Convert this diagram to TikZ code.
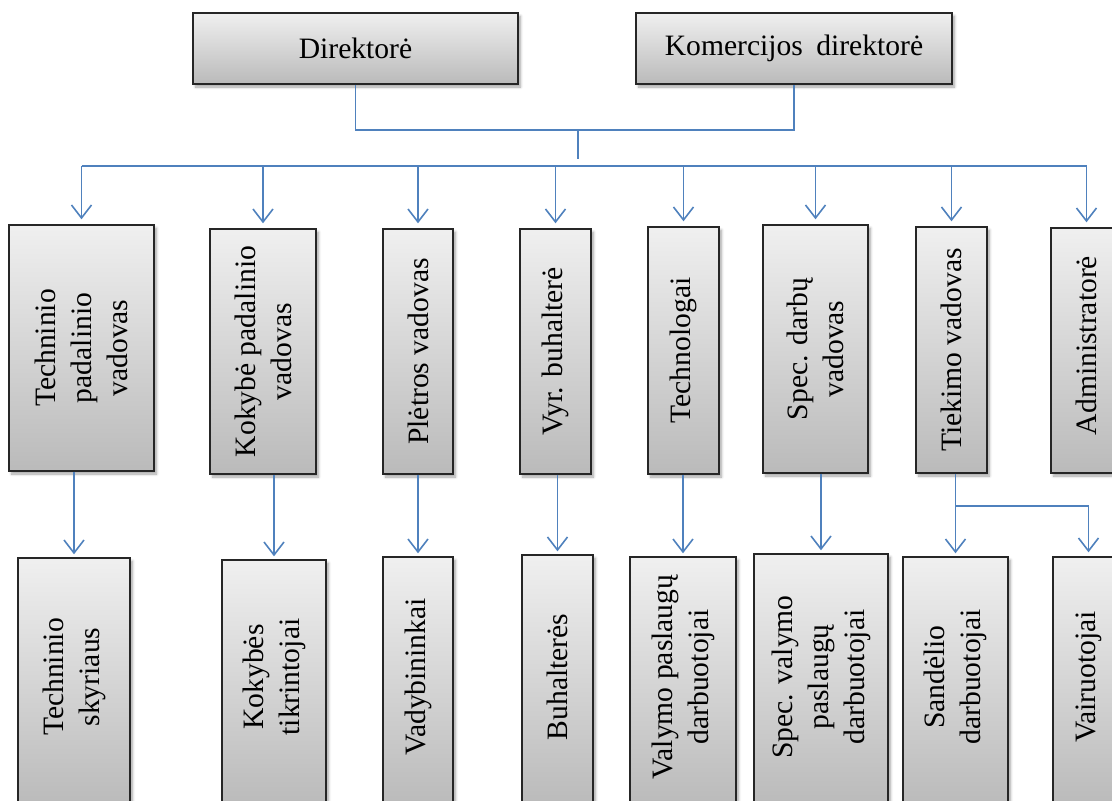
\documentclass[tikz,border=0pt]{standalone}
\usepackage{fontspec}
\setmainfont{Liberation Serif}
\usetikzlibrary{arrows.meta,shadows.blur}
\definecolor{linkblue}{RGB}{79,129,189}
\tikzset{
  box/.style={draw=black!85, line width=1.4pt, top color=black!6, bottom color=black!27,
    inner sep=0pt,
    blur shadow={shadow xshift=2.5pt, shadow yshift=-3pt, shadow blur radius=2.5pt,
      shadow opacity=35, shadow blur steps=6}},
  htxt/.style={font=\fontsize{29.6}{36}\selectfont},
  vtxt/.style={rotate=90, align=center, inner sep=0pt, font=\fontsize{29.6}{36}\selectfont},
  link/.style={draw=linkblue, line width=1.6pt},
  arr/.style={link, -{Straight Barb[length=13pt,width=20pt]}},
}
\begin{document}
\begin{tikzpicture}[x=1pt,y=-1pt]
\path[use as bounding box, clip] (0,0) rectangle (1112,801);

% management
\node[box, htxt, minimum width=325pt, minimum height=71pt] (dir) at (355.5,48.5) {Direktorė};
\node[box, htxt, minimum width=316pt, minimum height=71pt] (kom) at (794,48.5) {Komercijos\hspace{0.45em}direktorė};

% heads of units
\node[box, minimum width=145pt, minimum height=246pt] (t1) at (81.5,348) {};
\node[box, minimum width=106pt, minimum height=245pt] (t2) at (263,351.5) {};
\node[box, minimum width=70pt,  minimum height=245pt] (t3) at (418,351.5) {};
\node[box, minimum width=71pt,  minimum height=245pt] (t4) at (555.5,351.5) {};
\node[box, minimum width=71pt,  minimum height=247pt] (t5) at (683.5,350.5) {};
\node[box, minimum width=105pt, minimum height=248pt] (t6) at (815.5,349) {};
\node[box, minimum width=71pt,  minimum height=246pt] (t7) at (951.5,350) {};
\node[box, minimum width=71pt,  minimum height=245pt] (t8) at (1086.5,350.5) {};

\node[vtxt] (t1l) at (t1) {Techninio\\padalinio\\vadovas};
\node[vtxt] (t2l) at (t2) {Kokybė padalinio\\vadovas};
\node[vtxt] (t3l) at (t3) {Plėtros vadovas};
\node[vtxt] (t4l) at (t4) {Vyr. buhalterė};
\node[vtxt] (t5l) at (t5) {Technologai};
\node[vtxt] (t6l) at (t6) {Spec. darbų\\vadovas};
\node[vtxt] (t7l) at (t7) {Tiekimo vadovas};
\node[vtxt] (t8l) at ([yshift=5pt]t8.center) {Administratorė};

% staff
\node[box, minimum width=112pt, minimum height=248pt] (b1) at (74,682) {};
\node[box, minimum width=104pt, minimum height=246pt] (b2) at (274,683) {};
\node[box, minimum width=70pt,  minimum height=249pt] (b3) at (418,681.5) {};
\node[box, minimum width=71pt,  minimum height=251pt] (b4) at (557.5,680.5) {};
\node[box, minimum width=106pt, minimum height=249pt] (b5) at (683,681.5) {};
\node[box, minimum width=134pt, minimum height=252pt] (b6) at (821,680) {};
\node[box, minimum width=105pt, minimum height=249pt] (b7) at (955.5,681.5) {};
\node[box, minimum width=71pt,  minimum height=249pt] (b8) at (1088.5,681.5) {};

\coordinate (rowY) at (0,677);
\node[vtxt] (b1l) at (b1.north |- rowY) {Techninio\\skyriaus};
\node[vtxt] (b2l) at (b2.north |- rowY) {Kokybės\\tikrintojai};
\node[vtxt] (b3l) at (b3.north |- rowY) {Vadybininkai};
\node[vtxt] (b4l) at (b4.north |- rowY) {Buhalterės};
\node[vtxt] (b5l) at (b5.north |- rowY) {Valymo paslaugų\\darbuotojai};
\node[vtxt] (b6l) at (b6.north |- rowY) {Spec. valymo\\paslaugų\\darbuotojai};
\node[vtxt] (b7l) at (b7.north |- rowY) {Sandėlio\\darbuotojai};
\node[vtxt] (b8l) at (b8.north |- rowY) {Vairuotojai};

% connectors between management
\draw[link] (dir.south) -- ++(0,45) -| (kom.south);
\coordinate (hub) at (578,129);
\coordinate (hubend) at (578,159);
\draw[link] (hub) -- (hubend);

% distribution bus
\coordinate (busY) at (0,166);
\draw[link] (t1.north |- busY) -- (t8.north |- busY);
\foreach \t in {t1,t2,t3,t4,t5,t6,t7,t8}
  \draw[arr, shorten >=5pt] (\t.north |- busY) -- (\t.north);

% heads to staff
\foreach \t/\b in {t1/b1,t2/b2,t3/b3,t4/b4,t5/b5,t6/b6,t7/b7}
  \draw[arr, shorten >=3pt] (\b.north |- \t.south) -- (\b.north);

% supply branch to drivers
\coordinate (forkY) at (0,506);
\draw[arr, shorten >=4pt] (b7.north |- forkY) -| (b8.north);
\end{tikzpicture}
\end{document}
